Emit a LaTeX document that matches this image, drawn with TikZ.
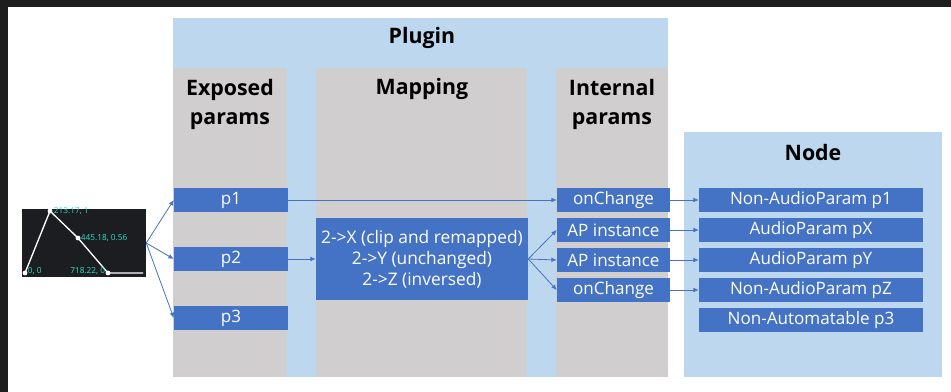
\documentclass[tikz,border=0pt]{standalone}
\usepackage{fontspec}
\setmainfont{Open Sans}
\usetikzlibrary{arrows.meta,positioning}
\definecolor{panelblue}{RGB}{189,215,238}
\definecolor{colgray}{RGB}{208,206,206}
\definecolor{boxblue}{RGB}{68,114,196}
\definecolor{darkframe}{RGB}{30,30,30}
\definecolor{plotbg}{RGB}{28,29,32}
\definecolor{plotcyan}{RGB}{40,225,200}

\begin{document}
\begin{tikzpicture}[x=0.75pt, y=-0.75pt, node distance=4.5pt,
  arrow/.style={-{Latex[length=4pt,width=3.5pt]}, boxblue, line width=0.6pt},
  box/.style={fill=boxblue, text=white, minimum height=17.6pt, inner sep=0pt, font=\fontsize{12.8}{15}\selectfont},
  pbox/.style={box, minimum width=85.5pt},
  ibox/.style={box, minimum width=84.75pt},
  nbox/.style={box, minimum width=168pt},
  head/.style={font=\fontsize{16}{21.75}\selectfont\bfseries, align=center},
  tag/.style={text=plotcyan, font=\fontsize{6.2}{7}\selectfont, inner sep=0.5pt}]
\useasboundingbox (0,0) rectangle (951,392);
\fill[white] (0,0) rectangle (951,392);
\fill[darkframe] (0,0) rectangle (951,7);
\fill[darkframe] (0,0) rectangle (8,392);
\fill[panelblue] (173,18) rectangle (668,377);
\fill[panelblue] (684,132) rectangle (942,377);
\fill[colgray] (173,68) rectangle (287,377);
\fill[colgray] (316,68) rectangle (527,377);
\fill[colgray] (556,68) rectangle (668,377);

\node[head] (plugin) at (422,38) {Plugin};
\node[head] (exposed) at (230,104) {Exposed\\params};
\node[head] (mapping) at (422,89) {Mapping};
\node[head] (internal) at (612,104) {Internal\\params};
\node[head] (nodehead) at (813,153) {Node};

\node[fill=plotbg, minimum width=93pt, minimum height=51pt, inner sep=0pt] (plot) at (84,243) {};
\coordinate (k0) at (25,273);
\coordinate (k1) at (50,211);
\coordinate (k2) at (78,238);
\coordinate (k3) at (108,273);
\coordinate (k4) at (143,273);
\draw[white, line width=1pt] (k0) -- (k1) -- (k2) -- (k3) -- (k4);
\fill[white] (k0) circle (1.8pt) (k1) circle (1.8pt) (k2) circle (1.8pt) (k3) circle (1.8pt);
\node[tag, anchor=west] (t0) at (27,271) {0, 0};
\node[tag, anchor=west] (t1) at (53,211) {213.17, 1};
\node[tag, anchor=west] (t2) at (80,238) {445.18, 0.56};
\node[tag, anchor=east] (t3) at (106,271) {718.22, 0};

\node[pbox] (p1) at (231,200) {p1};
\node[pbox] (p2) at (231,259) {p2};
\node[pbox] (p3) at (231,318) {p3};

\node[box, minimum width=159pt, minimum height=61.5pt, align=center, font=\fontsize{13}{15.75}\selectfont] (map) at (422,259) {2->X (clip and remapped)\\2->Y (unchanged)\\2->Z (inversed)};

\node[ibox] (on1) at (613.5,200) {onChange};
\node[ibox, below=of on1] (ap1) {AP instance};
\node[ibox, below=of ap1] (ap2) {AP instance};
\node[ibox, below=of ap2] (on2) {onChange};

\node[nbox] (np1) at (811,200) {Non-AudioParam p1};
\node[nbox, below=of np1] (npx) {AudioParam pX};
\node[nbox, below=of npx] (npy) {AudioParam pY};
\node[nbox, below=of npy] (npz) {Non-AudioParam pZ};
\node[nbox, below=of npz] (np3) {Non-Automatable p3};

\draw[arrow] (plot.east) -- (p1.west);
\draw[arrow] (plot.east) -- (p2.west);
\draw[arrow] (plot.east) -- (p3.west);
\draw[arrow] (p1) -- (on1);
\draw[arrow] (p2) -- (map);
\draw[arrow] (map.east) -- (ap1.west);
\draw[arrow] (map.east) -- (ap2.west);
\draw[arrow] (map.east) -- (on2.west);
\draw[arrow] (on1) -- (np1);
\draw[arrow] (ap1) -- (npx);
\draw[arrow] (ap2) -- (npy);
\draw[arrow] (on2) -- (npz);
\end{tikzpicture}
\end{document}
